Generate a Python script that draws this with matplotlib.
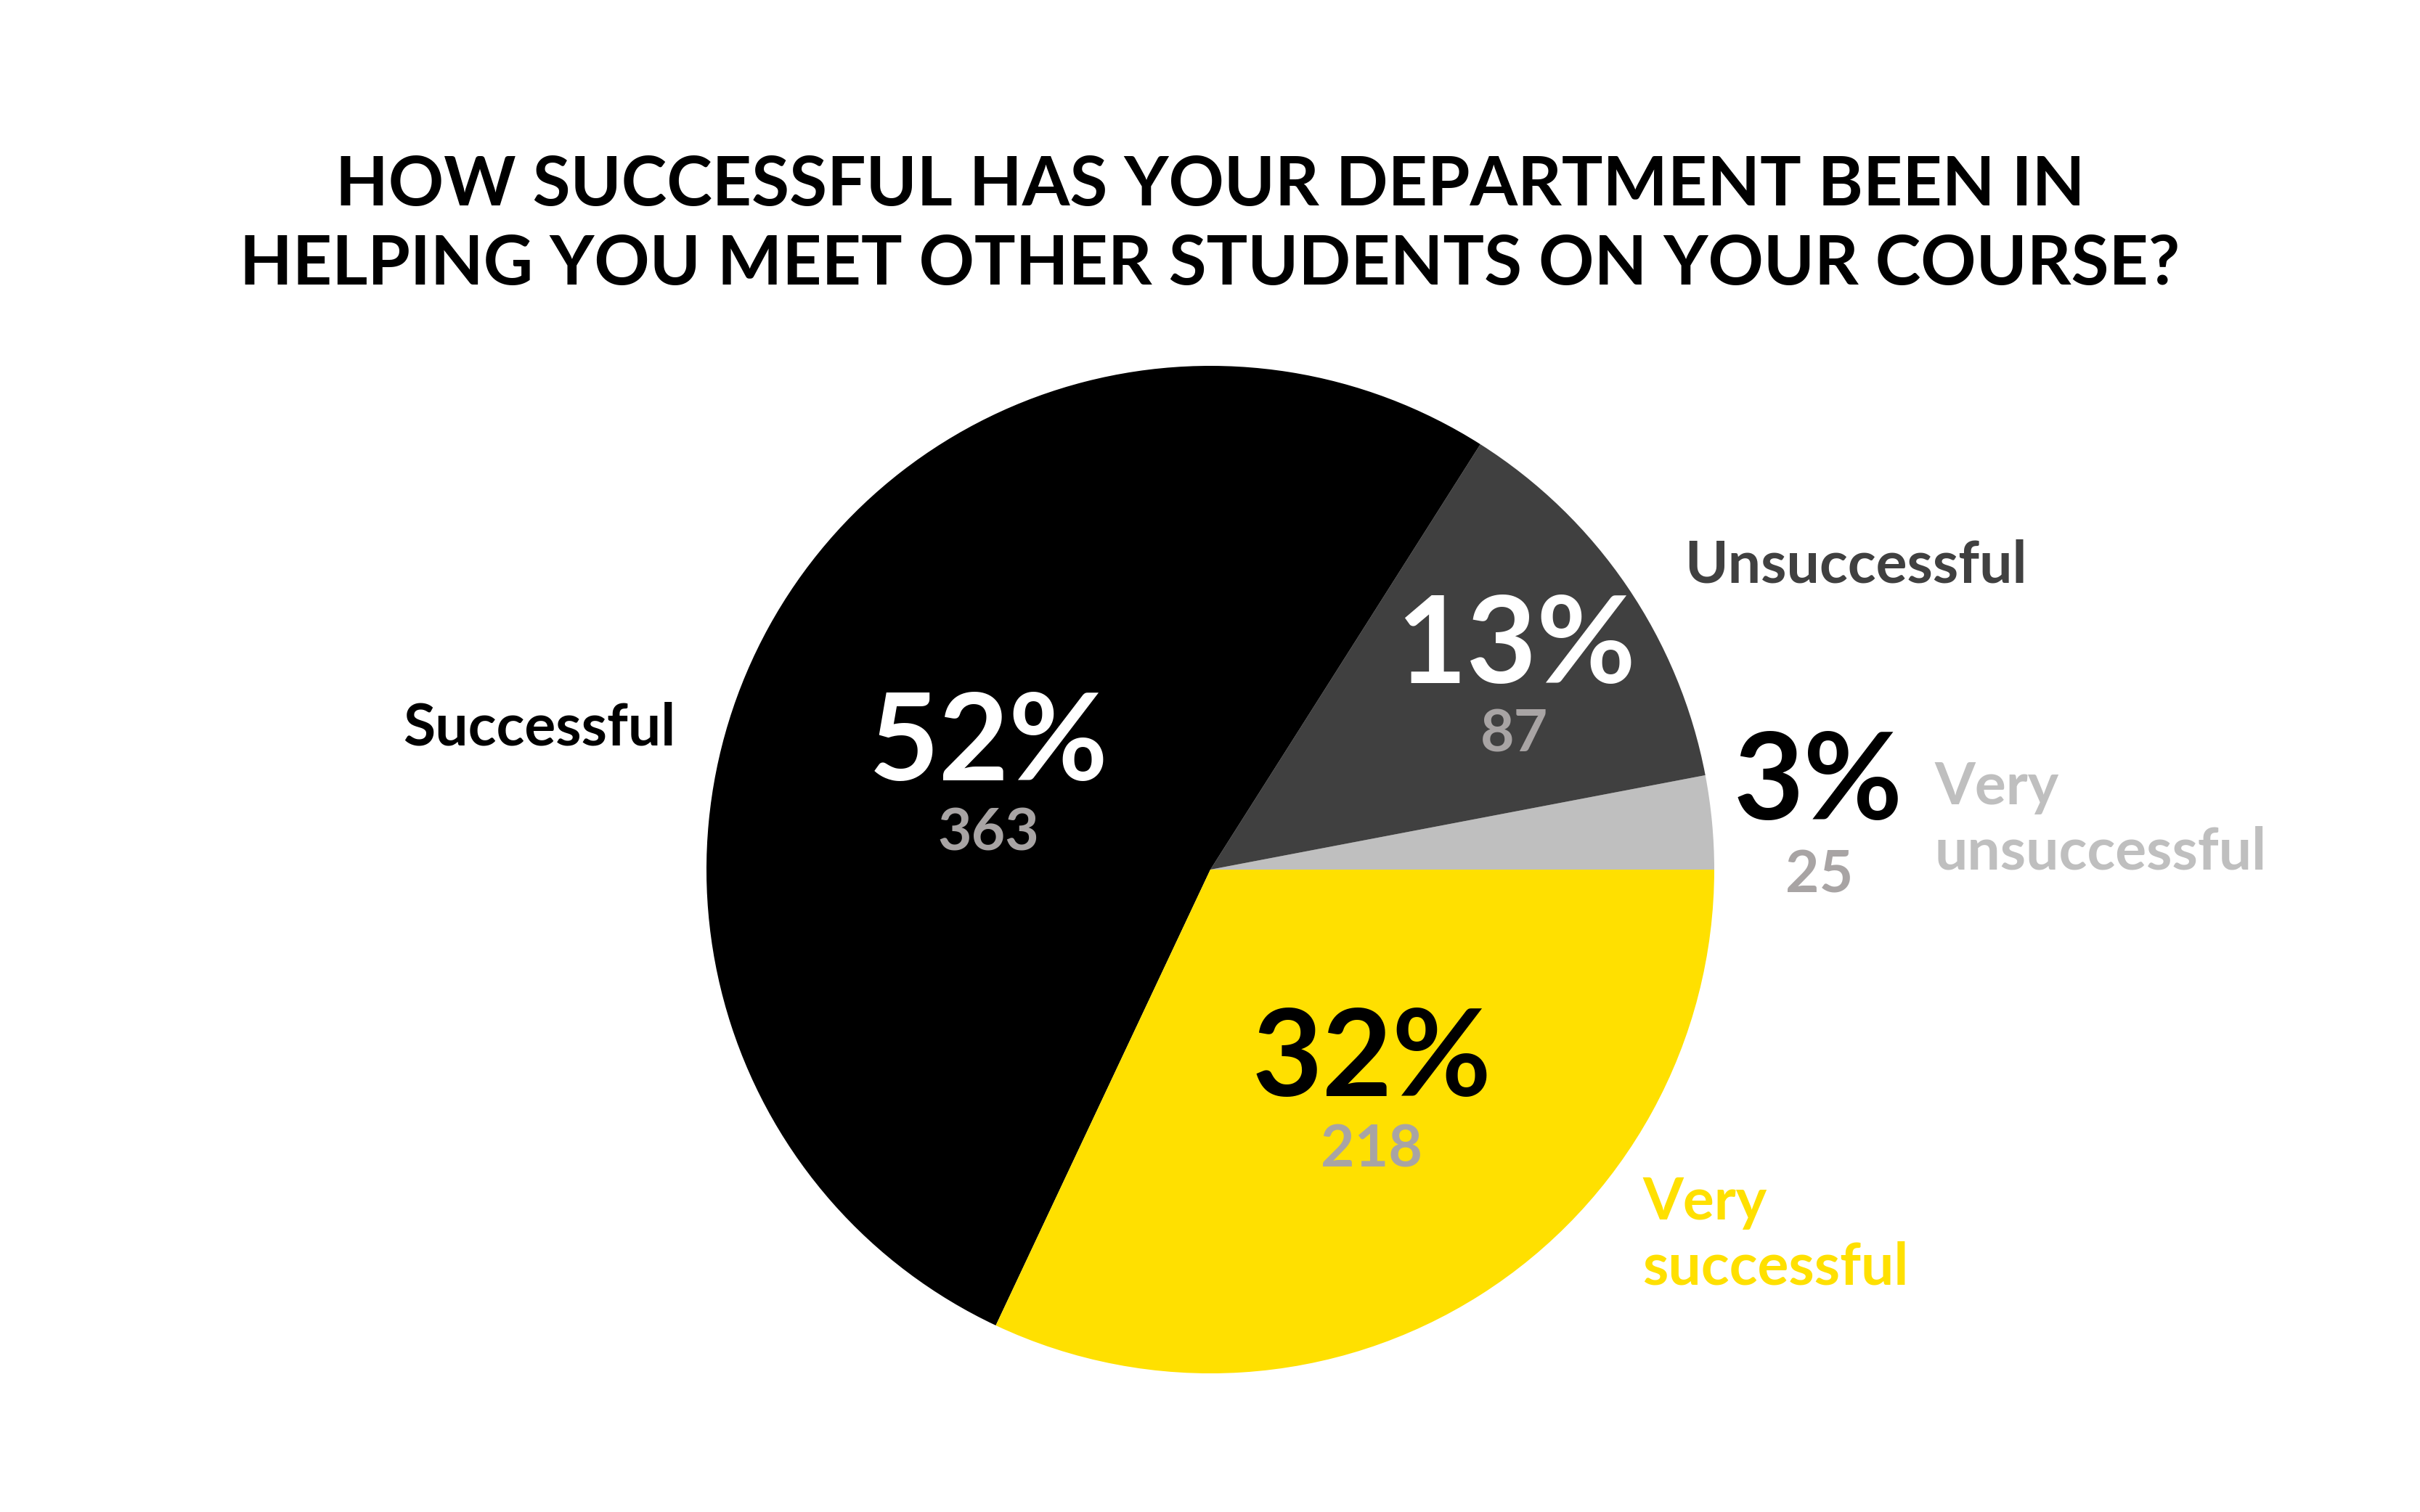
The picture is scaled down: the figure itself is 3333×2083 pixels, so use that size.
import matplotlib
matplotlib.use("Agg")
import matplotlib.pyplot as plt
import numpy as np

plt.rcParams['font.family'] = ['Lato', 'DejaVu Sans']

# data (slices go counter-clockwise from 3 o'clock)
labels = ['Very\nunsuccessful', 'Unsuccessful', 'Successful', 'Very\nsuccessful']
percents = [3, 13, 52, 32]
counts = [25, 87, 363, 218]
colors = ['#BFBFBF', '#404040', '#000000', '#FFE000']
pct_colors = ['#000000', '#FFFFFF', '#FFFFFF', '#000000']
count_color = '#A8A4A4'

title = 'HOW SUCCESSFUL HAS YOUR DEPARTMENT BEEN IN\nHELPING YOU MEET OTHER STUDENTS ON YOUR COURSE?'

# layout in pixels / pie-radius units
W, H = 3333, 2083
cx, cy, R = 1667, 885, 694
pct_pos = [(1.206, 0.169), (0.606, 0.44), (-0.44, 0.246), (0.32, -0.38)]
count_pos = [(1.209, -0.012), (0.603, 0.268), (-0.44, 0.071), (0.32, -0.557)]
label_pos = [(1.437, 0.098, 'left'), (0.942, 0.603, 'left'),
             (-1.062, 0.28, 'right'), (0.858, -0.726, 'left')]

fig = plt.figure(figsize=(W / 100, H / 100), dpi=100)
ax = fig.add_axes([0, 0, 1, 1])
ax.pie(percents, colors=colors, startangle=0, counterclock=True,
       center=(cx, cy), radius=R, wedgeprops=dict(linewidth=0))
ax.set_xlim(0, W)
ax.set_ylim(0, H)
ax.set_aspect('equal')
ax.axis('off')

for i in range(len(labels)):
    px, py = pct_pos[i]
    ax.text(cx + px * R, cy + py * R, f'{percents[i]}%', ha='center', va='center',
            fontsize=120, fontweight='bold', color=pct_colors[i])
    qx, qy = count_pos[i]
    ax.text(cx + qx * R, cy + qy * R, str(counts[i]), ha='center', va='center',
            fontsize=58, fontweight='bold', color=count_color)
    lx, ly, ha = label_pos[i]
    ax.text(cx + lx * R, cy + ly * R, labels[i], ha=ha, va='center',
            fontsize=58, fontweight='bold', color=colors[i] if i != 2 else '#000000',
            linespacing=1.25)

fig.text(0.5, 0.851, title, ha='center', va='center', fontsize=68,
         fontweight='bold', color='#000000', linespacing=1.33)

fig.savefig('out.png', dpi=100, facecolor='white')
